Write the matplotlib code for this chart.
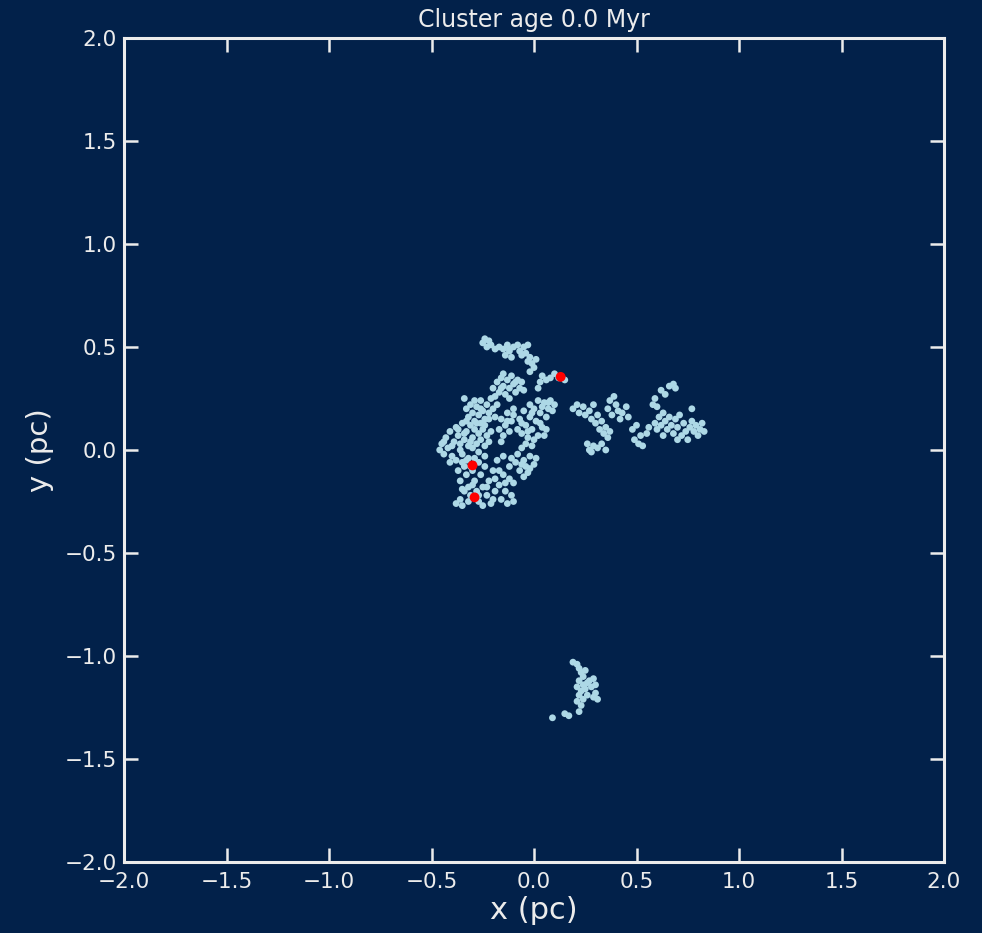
import numpy as np
import matplotlib
matplotlib.use("Agg")
import matplotlib.pyplot as plt

# star positions (pc) at t = 0, grouped by clump
main_x = [
    -0.25, -0.24, -0.23, -0.22, -0.21, -0.19, -0.17, -0.15, -0.13, -0.12, -0.10, -0.08,
    -0.07, -0.05, -0.04, -0.03, -0.02, -0.01, 0.00, -0.03, 0.01, -0.02, -0.14, -0.11,
    0.03, 0.04, 0.06, 0.08, 0.10, 0.12, 0.15, 0.02,
    -0.20, -0.18, -0.17, -0.16, -0.15, -0.14, -0.13, -0.12, -0.11, -0.10, -0.09, -0.08,
    -0.07, -0.06, -0.19, -0.12, -0.15, -0.05,
    -0.33, -0.32, -0.31, -0.30, -0.29, -0.28, -0.27, -0.26, -0.25, -0.24, -0.23, -0.22,
    -0.21, -0.20, -0.19, -0.18, -0.34, -0.26,
    -0.17, -0.16, -0.15, -0.14, -0.13, -0.12, -0.11, -0.10, -0.16,
    -0.08, -0.07, -0.06, -0.05, -0.04, -0.03, -0.02, -0.01, 0.00, 0.01, 0.02, 0.03,
    0.04, 0.05, 0.06, 0.07, 0.08, 0.09, 0.10, -0.06, -0.02, 0.02, 0.00, -0.04,
    0.04, -0.01, 0.06,
    -0.46, -0.45, -0.44, -0.43, -0.42, -0.41, -0.40, -0.39, -0.38, -0.37, -0.36, -0.35,
    -0.34, -0.33, -0.32, -0.31, -0.30, -0.29, -0.28, -0.27, -0.26, -0.25, -0.24, -0.23,
    -0.22, -0.38, -0.35, -0.32, -0.41, -0.36, -0.33, -0.30, -0.27,
    -0.38, -0.36, -0.35, -0.34, -0.33, -0.32, -0.31, -0.30, -0.29, -0.28, -0.27, -0.26,
    -0.25, -0.24, -0.23, -0.22, -0.21, -0.20, -0.19, -0.18, -0.17, -0.16, -0.15, -0.14,
    -0.13, -0.12, -0.11, -0.10, -0.36, -0.34, -0.37, -0.33, -0.32, -0.25, -0.20, -0.29,
    -0.10, -0.15, -0.12,
    -0.08, -0.06, -0.05, -0.04, -0.02, 0.00, -0.03, -0.07, -0.01, 0.01, -0.09, -0.05,
]
main_y = [
    0.52, 0.54, 0.50, 0.53, 0.51, 0.49, 0.50, 0.49, 0.51, 0.48, 0.50, 0.51,
    0.48, 0.50, 0.47, 0.51, 0.45, 0.42, 0.40, 0.43, 0.44, 0.38, 0.46, 0.45,
    0.33, 0.36, 0.34, 0.35, 0.37, 0.35, 0.34, 0.30,
    0.30, 0.33, 0.28, 0.35, 0.31, 0.27, 0.34, 0.30, 0.36, 0.32, 0.28, 0.34,
    0.30, 0.33, 0.26, 0.25, 0.37, 0.29,
    0.20, 0.16, 0.22, 0.18, 0.14, 0.21, 0.17, 0.24, 0.19, 0.15, 0.22, 0.18,
    0.25, 0.20, 0.16, 0.22, 0.25, 0.13,
    0.10, 0.15, 0.07, 0.12, 0.18, 0.09, 0.14, 0.17, 0.04,
    0.10, 0.15, 0.08, 0.19, 0.12, 0.06, 0.16, 0.10, 0.20, 0.14, 0.07, 0.18,
    0.11, 0.23, 0.16, 0.20, 0.24, 0.19, 0.22, 0.13, 0.22, 0.24, 0.05, 0.03,
    0.21, 0.18, 0.10,
    0.00, 0.03, -0.02, 0.06, 0.01, 0.09, -0.03, 0.04, 0.11, 0.07, 0.00, 0.13,
    0.05, 0.09, 0.02, 0.12, 0.06, 0.10, 0.03, 0.08, 0.05, 0.10, 0.02, 0.07,
    0.04, -0.05, -0.02, -0.04, -0.06, 0.03, 0.14, 0.01, -0.01,
    -0.26, -0.24, -0.27, -0.08, -0.12, -0.18, -0.22, -0.10, -0.15, -0.20, -0.25, -0.12,
    -0.18, -0.08, -0.22, -0.15, -0.26, -0.10, -0.20, -0.05, -0.17, -0.24, -0.12, -0.20,
    -0.26, -0.08, -0.22, -0.16, -0.15, -0.20, -0.10, -0.05, -0.25, -0.27, -0.24, -0.04,
    -0.25, -0.03, -0.14,
    -0.02, 0.01, -0.05, -0.08, -0.03, -0.07, -0.11, -0.10, 0.02, -0.04, -0.06, -0.13,
]

# extra members filling the densest part of the main group
core_x = [
    -0.44, -0.40, -0.37, -0.34, -0.31, -0.28, -0.24, -0.21, -0.35, -0.31, -0.27, -0.24,
    -0.35, -0.30, -0.27, -0.23, -0.19, -0.17, -0.14, -0.26, -0.22, -0.29, -0.10, -0.13,
    -0.03, 0.03, 0.07, -0.09, -0.16, -0.12, -0.06, 0.05, -0.06, -0.11, -0.02,
]
core_y = [
    0.04, 0.02, 0.10, 0.08, 0.04, 0.13, 0.12, 0.09, -0.06, -0.08, -0.06, -0.03,
    -0.19, -0.17, -0.22, -0.18, -0.14, -0.10, -0.16, 0.20, 0.15, 0.24, 0.20, 0.14,
    0.09, 0.13, 0.23, 0.33, 0.30, 0.49, 0.46, 0.07, -0.07, -0.04, -0.09,
]

east_x = [
    0.19, 0.21, 0.22, 0.24, 0.25, 0.27, 0.28, 0.29, 0.30, 0.31, 0.32, 0.33,
    0.34, 0.35, 0.36, 0.37, 0.26, 0.28, 0.29, 0.31, 0.33, 0.35, 0.27,
    0.36, 0.37, 0.38, 0.39, 0.40, 0.41, 0.42, 0.43, 0.45, 0.46,
    0.48, 0.49, 0.50, 0.51, 0.52, 0.53, 0.55, 0.56,
    0.58, 0.59, 0.60, 0.62, 0.64, 0.66, 0.68, 0.69,
    0.59, 0.60, 0.61, 0.62, 0.63, 0.64, 0.65, 0.66, 0.67, 0.68, 0.69, 0.70,
    0.71, 0.72, 0.73, 0.74, 0.63, 0.70,
    0.76, 0.77, 0.78, 0.79, 0.80, 0.81, 0.82, 0.83, 0.77, 0.75,
]
east_y = [
    0.20, 0.22, 0.18, 0.21, 0.17, 0.19, 0.15, 0.22, 0.13, 0.17, 0.10, 0.14,
    0.08, 0.11, 0.06, 0.09, 0.03, -0.01, 0.02, 0.01, 0.03, 0.00, 0.00,
    0.20, 0.24, 0.17, 0.26, 0.22, 0.19, 0.15, 0.18, 0.21, 0.16,
    0.10, 0.05, 0.12, 0.03, 0.07, 0.02, 0.08, 0.11,
    0.22, 0.25, 0.21, 0.29, 0.27, 0.31, 0.32, 0.30,
    0.13, 0.10, 0.16, 0.12, 0.18, 0.14, 0.10, 0.16, 0.12, 0.08, 0.15, 0.11,
    0.17, 0.07, 0.13, 0.09, 0.07, 0.05,
    0.11, 0.14, 0.09, 0.12, 0.07, 0.10, 0.13, 0.09, 0.20, 0.05,
]

south_x = [
    0.19, 0.21, 0.22, 0.23, 0.24, 0.22, 0.24, 0.21, 0.23, 0.25, 0.22, 0.24,
    0.21, 0.23, 0.26, 0.27, 0.28, 0.29, 0.30, 0.30, 0.31, 0.29, 0.26, 0.09,
    0.15, 0.17, 0.22, 0.25,
]
south_y = [
    -1.03, -1.04, -1.06, -1.08, -1.10, -1.12, -1.14, -1.15, -1.17, -1.16, -1.19, -1.21,
    -1.22, -1.24, -1.19, -1.12, -1.15, -1.11, -1.14, -1.18, -1.21, -1.20, -1.13, -1.30,
    -1.28, -1.29, -1.27, -1.07,
]

# massive stars
massive_x = [0.13, -0.30, -0.29]
massive_y = [0.355, -0.075, -0.23]

age_myr = 0.0

bg = "#02214a"
fg = "#ececec"

fig = plt.figure(figsize=(9.82, 9.33), dpi=100, facecolor=bg)
ax = fig.add_axes([0.1263, 0.0761, 0.835, 0.8832], facecolor=bg)

stars_x = main_x + core_x + east_x + south_x
stars_y = main_y + core_y + east_y + south_y
ax.scatter(stars_x, stars_y, s=24, c="lightblue", edgecolors="none", zorder=2)
ax.scatter(massive_x, massive_y, s=50, c="red", edgecolors="none", zorder=3)

ax.set_xlim(-2, 2)
ax.set_ylim(-2, 2)
ticks = np.arange(-2.0, 2.01, 0.5)
ax.set_xticks(ticks)
ax.set_yticks(ticks)

for side in ax.spines.values():
    side.set_color(fg)
    side.set_linewidth(2.2)

ax.tick_params(direction="in", length=10, width=1.8, colors=fg,
               top=True, right=True, labelsize=15.5, pad=5)
ax.tick_params(axis="x", pad=7)

ax.set_xlabel("x (pc)", color=fg, fontsize=22, labelpad=3)
ax.set_ylabel("y (pc)", color=fg, fontsize=21, labelpad=8)
ax.set_title(f"Cluster age {age_myr:.1f} Myr", color=fg, fontsize=17, pad=8)

fig.savefig("out.png", dpi=100, facecolor=bg)
